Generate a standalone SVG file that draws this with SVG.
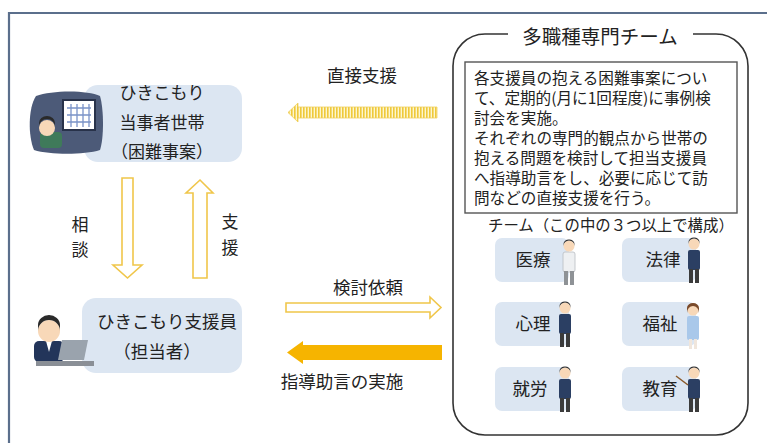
<svg xmlns="http://www.w3.org/2000/svg" width="767" height="443" viewBox="0 0 767 443">
  <defs>
    <style>
      .t { font-family: "Noto Sans CJK JP", "Noto Sans", sans-serif; fill: #222; }
      .node { fill: #dce6f2; }
      .hollow { fill: #ffffff; stroke: #f0c64a; stroke-width: 1.6; stroke-linejoin: miter; }
      .solid { fill: #f6b400; }
      .frame { fill: none; stroke: #5b6f8c; stroke-width: 2.2; }
      .team { fill: none; stroke: #333; stroke-width: 1.6; }
      .box { fill: #ffffff; stroke: #555; stroke-width: 1.4; }
      .skin { fill: #f8d8b8; }
      .hair { fill: #2a2a2a; }
    </style>
    <pattern id="stripes" patternUnits="userSpaceOnUse" width="3" height="10">
      <rect width="3" height="10" fill="#fdf6cf"/>
      <rect width="1.6" height="10" fill="#efc93a"/>
    </pattern>
    <!-- standing staff figure, origin at head centre -->
    <g id="person">
      <rect x="-6" y="6" width="12" height="20" rx="2" fill="#2b3f63"/>
      <rect x="-5" y="25" width="4" height="14" fill="#3b3b3b"/>
      <rect x="1" y="25" width="4" height="14" fill="#3b3b3b"/>
      <circle cx="0" cy="0" r="5.5" class="skin"/>
      <path d="M-5.5,0 A5.5,5.5 0 0 1 5.5,0 L5.5,-2 A5.5,4.5 0 0 0 -5.5,-2 Z" class="hair"/>
    </g>
    <!-- figure in light clothing -->
    <g id="person-light">
      <rect x="-6" y="6" width="12" height="20" rx="2" fill="#eef0f2" stroke="#b8bcc2" stroke-width="0.8"/>
      <rect x="-5" y="25" width="4" height="14" fill="#8e9296"/>
      <rect x="1" y="25" width="4" height="14" fill="#8e9296"/>
      <circle cx="0" cy="0" r="5.5" class="skin"/>
      <path d="M-5.5,0 A5.5,5.5 0 0 1 5.5,0 L5.5,-2 A5.5,4.5 0 0 0 -5.5,-2 Z" class="hair"/>
    </g>
    <!-- figure in blue apron -->
    <g id="person-apron">
      <rect x="-6" y="6" width="12" height="24" rx="2" fill="#a9c8ea"/>
      <rect x="-4" y="29" width="3" height="10" fill="#f0e6dc"/>
      <rect x="1" y="29" width="3" height="10" fill="#f0e6dc"/>
      <circle cx="0" cy="0" r="5.5" class="skin"/>
      <path d="M-6,3 A6,7 0 0 1 6,3 L6,-2 A6,5 0 0 0 -6,-2 Z" fill="#7a4a2a"/>
    </g>
  </defs>

  <!-- outer frame -->
  <path class="frame" d="M9,443 V13 H767"/>

  <!-- household node -->
  <g id="household">
    <rect class="node" x="84" y="85" width="158" height="77" rx="14"/>
    <path d="M36,96 C52,90 88,90 100,96 C104,110 104,138 100,150 C84,155 50,155 34,150 C28,136 28,108 36,96 Z" fill="#4c5a78"/>
    <rect x="63" y="100" width="32" height="30" fill="#ffffff" stroke="#28324a" stroke-width="2"/>
    <path d="M67,108 H91 M67,115 H91 M67,122 H91 M71,104 V127 M77,104 V127 M83,104 V127 M89,104 V127" stroke="#7a93c8" stroke-width="1.3"/>
    <rect x="40" y="132" width="22" height="16" rx="4" fill="#3f7a5a"/>
    <circle cx="47" cy="128" r="8" class="skin"/>
    <path d="M39,127 A8,8 0 0 1 55,127 L55,123 A8,7 0 0 0 39,123 Z" class="hair"/>
    <text class="t" font-size="17" text-anchor="middle" x="162" y="99">ひきこもり</text>
    <text class="t" font-size="17" text-anchor="middle" x="162" y="129">当事者世帯</text>
    <text class="t" font-size="17" text-anchor="middle" x="162" y="158">（困難事案）</text>
  </g>

  <!-- support worker node -->
  <g id="worker">
    <rect class="node" x="82" y="298" width="160" height="75" rx="14"/>
    <rect x="34" y="341" width="30" height="21" rx="5" fill="#23355a"/>
    <path d="M46,341 L49,352 L52,341 Z" fill="#ffffff"/>
    <circle cx="49" cy="331" r="11" class="skin"/>
    <path d="M38,331 A11,11 0 0 1 60,331 L60,325 A11,10 0 0 0 38,325 Z" class="hair"/>
    <polygon points="62,340 88,340 84,360 58,360" fill="#9aa3ad"/>
    <rect x="36" y="361" width="58" height="5" fill="#8a8f96"/>
    <text class="t" font-size="17.5" text-anchor="middle" x="167" y="328">ひきこもり支援員</text>
    <text class="t" font-size="17.5" text-anchor="middle" x="157" y="358">（担当者）</text>
  </g>

  <!-- multidisciplinary team -->
  <g id="team">
    <path class="team" d="M508,34 H485 A32,32 0 0 0 453,66 V403 A32,32 0 0 0 485,435 H716 A32,32 0 0 0 748,403 V66 A32,32 0 0 0 716,34 H693"/>
    <text class="t" font-size="19.5" text-anchor="middle" x="600" y="44">多職種専門チーム</text>
    <rect class="box" x="465" y="62" width="272" height="151"/>
    <g class="t" font-size="15.6">
      <text x="474" y="84">各支援員の抱える困難事案につい</text>
      <text x="474" y="104">て、定期的(月に1回程度)に事例検</text>
      <text x="474" y="124">討会を実施。</text>
      <text x="474" y="144">それぞれの専門的観点から世帯の</text>
      <text x="474" y="164">抱える問題を検討して担当支援員</text>
      <text x="474" y="184">へ指導助言をし、必要に応じて訪</text>
      <text x="474" y="204">問などの直接支援を行う。</text>
    </g>
    <text class="t" font-size="15.4" x="488" y="231">チーム（この中の３つ以上で構成）</text>
  </g>

  <g id="medical">
    <rect class="node" x="495" y="238" width="74" height="44" rx="7"/>
    <text class="t" font-size="17.5" text-anchor="middle" x="533" y="266">医療</text>
    <use href="#person-light" x="569" y="246"/>
  </g>
  <g id="law">
    <rect class="node" x="622" y="238" width="74" height="44" rx="7"/>
    <text class="t" font-size="17.5" text-anchor="middle" x="663" y="266">法律</text>
    <use href="#person" x="694" y="244"/>
  </g>
  <g id="psychology">
    <rect class="node" x="495" y="302" width="74" height="44" rx="7"/>
    <text class="t" font-size="17.5" text-anchor="middle" x="533" y="330">心理</text>
    <use href="#person" x="565" y="308"/>
  </g>
  <g id="welfare">
    <rect class="node" x="622" y="302" width="74" height="44" rx="7"/>
    <text class="t" font-size="17.5" text-anchor="middle" x="660" y="330">福祉</text>
    <use href="#person-apron" x="693" y="310"/>
  </g>
  <g id="employment">
    <rect class="node" x="495" y="367" width="74" height="44" rx="7"/>
    <text class="t" font-size="17.5" text-anchor="middle" x="530" y="395">就労</text>
    <use href="#person" x="565" y="373"/>
  </g>
  <g id="education">
    <rect class="node" x="622" y="367" width="74" height="44" rx="7"/>
    <text class="t" font-size="17.5" text-anchor="middle" x="660" y="395">教育</text>
    <use href="#person" x="694" y="373"/>
    <path d="M688,385 L676,376" stroke="#8a5a2a" stroke-width="1.5"/>
  </g>

  <!-- connectors -->
  <g id="connectors">
    <!-- consultation: household to worker -->
    <polygon class="hollow" points="122,178 133,178 133,265 142,265 127.5,278 113,265 122,265"/>
    <text class="t" font-size="17" text-anchor="middle" x="80" y="231">相</text>
    <text class="t" font-size="17" text-anchor="middle" x="80" y="256">談</text>
    <!-- support: worker to household -->
    <polygon class="hollow" points="193,278 207,278 207,193 213,193 200,180 186,193 193,193"/>
    <text class="t" font-size="17" text-anchor="middle" x="230" y="228">支</text>
    <text class="t" font-size="17" text-anchor="middle" x="230" y="254">援</text>
    <!-- direct support: team to household -->
    <polygon points="437,107 298,107 298,103 288,112.5 298,122 298,118 437,118" fill="url(#stripes)" stroke="#f0d060" stroke-width="0.8"/>
    <text class="t" font-size="17.5" text-anchor="middle" x="362" y="82">直接支援</text>
    <!-- review request: worker to team -->
    <polygon class="hollow" points="286,303 430,303 430,297 441,307.5 430,318 430,312 286,312"/>
    <text class="t" font-size="17.5" text-anchor="middle" x="368" y="294">検討依頼</text>
    <!-- guidance: team to worker -->
    <polygon class="solid" points="442,345 303,345 303,341 287,352.5 303,364 303,360 442,360"/>
    <text class="t" font-size="17.5" text-anchor="middle" x="342" y="388">指導助言の実施</text>
  </g>
</svg>
